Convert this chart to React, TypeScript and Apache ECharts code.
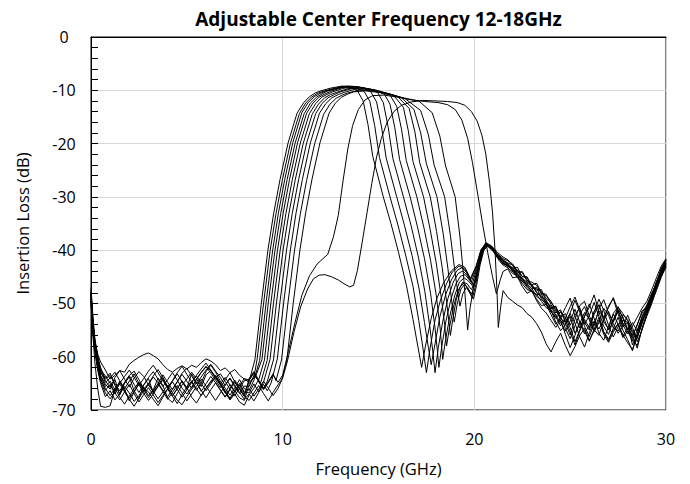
import React, { useEffect, useRef } from "react";
import * as echarts from "echarts";

const titleText = "Adjustable Center Frequency 12-18GHz";
const xName = "Frequency (GHz)";
const yName = "Insertion Loss (dB)";

const lowFreqs = [0, 0.1, 0.2, 0.35, 0.5, 0.75, 1, 1.25, 1.5, 1.75, 2, 2.25, 2.5, 2.75, 3, 3.25, 3.5, 3.75, 4, 4.25, 4.5, 4.75, 5, 5.25, 5.5, 5.75, 6, 6.25, 6.5, 6.75, 7, 7.25, 7.5, 7.75, 8];
const highFreqs = [21.75, 22, 22.25, 22.5, 22.75, 23, 23.25, 23.5, 23.75, 24, 24.25, 24.5, 24.75, 25, 25.25, 25.5, 25.75, 26, 26.25, 26.5, 26.75, 27, 27.25, 27.5, 27.75, 28, 28.25, 28.5, 28.75, 29, 29.25, 29.5, 29.75, 30];

// ---- curve 0 ----
const m0Low = [-48, -54, -58, -61, -63.5, -65.2, -66.1, -64.3, -67.2, -65.0, -63.8, -66.4, -67.9, -65.3, -64.1, -66.8, -65.5, -63.9, -65.7, -67.4, -66.0, -64.6, -65.9, -63.2, -64.8, -66.5, -65.1, -63.7, -64.9, -66.2, -67.5, -66.0, -64.4, -65.8, -67.1];
const m0Pass = [[8.25, -64.6], [8.55, -60.6], [8.88, -50.2], [9.23, -40], [9.53, -33.1], [9.86, -26.8], [10.28, -19.9], [10.75, -14.3], [11.1, -12.3], [11.4, -11.2], [11.7, -10.5], [12.0, -10.1], [12.5, -9.6], [13.1, -9.2], [13.5, -9.4], [13.9, -10.1], [14.2, -12.0], [14.45, -16.4], [14.7, -22.4], [15.25, -30], [15.65, -35], [16.05, -40.5], [16.45, -46.5], [16.8, -53], [17.05, -58], [17.25, -62], [17.45, -58], [17.75, -52.8], [18.05, -49], [18.4, -46.1], [18.8, -43.9], [19.2, -42.7], [19.5, -43.2], [19.8, -45.3], [20.1, -42.9], [20.35, -39.9], [20.6, -38.7], [20.9, -39.5], [21.2, -40.7], [21.5, -41.6]];
const m0High = [-42.0, -42.6, -43.9, -44.2, -45.8, -46.0, -46.6, -48.2, -48.5, -49.6, -51.4, -52.6, -51.9, -54.1, -52.2, -50.8, -53.6, -55.0, -51.5, -50.2, -53.4, -54.8, -51.9, -50.6, -52.8, -55.1, -56.4, -53.9, -51.8, -50.3, -48.1, -46.3, -43.6, -41.9];

// ---- curve 1 ----
const m1Low = [-49, -55, -58.5, -62, -64, -66.3, -65.2, -67.0, -64.6, -66.1, -68.3, -66.7, -64.9, -65.8, -67.3, -66.2, -64.0, -65.4, -67.8, -68.6, -66.9, -65.3, -64.2, -62.9, -64.1, -65.6, -63.4, -62.6, -64.0, -65.3, -66.8, -65.2, -66.4, -67.7, -68.2];
const m1Pass = [[8.25, -65.2], [8.5, -63.9], [8.67, -60.4], [9.0, -50.1], [9.35, -40], [9.65, -33.2], [9.98, -26.9], [10.4, -20.0], [10.87, -14.4], [11.2, -12.4], [11.5, -11.3], [11.8, -10.6], [12.1, -10.2], [12.6, -9.7], [13.2, -9.3], [13.85, -9.6], [14.25, -10.2], [14.55, -12.1], [14.8, -16.6], [15.05, -22.6], [15.6, -30], [16.0, -35.1], [16.4, -40.7], [16.8, -46.8], [17.1, -53.2], [17.32, -58.4], [17.5, -63], [17.7, -58.2], [17.95, -53.1], [18.25, -49.2], [18.55, -46.3], [18.85, -44.1], [19.2, -43.0], [19.5, -43.5], [19.8, -45.6], [20.1, -43.1], [20.35, -40.0], [20.6, -38.8], [20.9, -39.4], [21.2, -40.9], [21.5, -41.8]];
const m1High = [-42.5, -43.4, -43.2, -45.0, -45.1, -46.9, -47.5, -47.4, -49.6, -50.8, -50.5, -53.3, -54.0, -52.4, -55.6, -53.8, -51.7, -52.9, -55.3, -53.6, -50.9, -52.2, -54.6, -55.2, -53.1, -53.6, -57.8, -55.9, -53.1, -51.6, -49.2, -47.0, -44.6, -42.6];

// ---- curve 2 ----
const m2Low = [-47.5, -53.5, -57.5, -60.5, -62.5, -64.0, -63.1, -65.4, -66.9, -64.8, -63.5, -62.7, -64.3, -66.0, -65.1, -63.6, -62.4, -63.9, -65.7, -64.5, -63.0, -61.8, -63.3, -64.7, -66.3, -64.9, -62.8, -61.6, -62.9, -64.6, -65.9, -67.2, -65.8, -64.3, -66.0];
const m2Pass = [[8.25, -66.3], [8.5, -64.4], [8.8, -60.7], [9.13, -50.0], [9.48, -40], [9.78, -33.0], [10.11, -26.7], [10.53, -19.8], [11.0, -14.2], [11.33, -12.3], [11.65, -11.2], [11.95, -10.6], [12.2, -10.2], [12.8, -9.6], [13.3, -9.2], [13.8, -9.3], [14.2, -9.6], [14.6, -10.3], [14.9, -12.2], [15.15, -16.7], [15.4, -22.7], [15.95, -30], [16.35, -35.3], [16.75, -41.0], [17.12, -47.3], [17.4, -53.6], [17.6, -58.2], [17.75, -61.5], [17.95, -57.6], [18.2, -52.5], [18.5, -48.4], [18.8, -45.6], [19.1, -43.8], [19.35, -43.3], [19.6, -44.2], [19.85, -45.9], [20.1, -43.4], [20.35, -40.2], [20.6, -38.6], [20.9, -39.2], [21.2, -40.4], [21.5, -41.3]];
const m2High = [-41.8, -42.9, -44.3, -44.0, -45.6, -46.5, -46.2, -48.0, -48.3, -50.2, -51.8, -51.2, -53.7, -55.9, -53.0, -50.4, -49.6, -52.4, -54.2, -51.0, -49.3, -51.8, -53.5, -51.4, -54.0, -55.7, -54.2, -52.6, -50.9, -49.6, -47.5, -45.2, -43.0, -41.6];

// ---- curve 3 ----
const m3Low = [-48.5, -54, -57, -59.5, -61, -62.5, -64.2, -63.5, -62.6, -62.9, -61.4, -60.7, -60.1, -59.6, -59.3, -59.8, -60.4, -61.5, -62.4, -62.9, -62.2, -61.7, -62.3, -61.6, -62.0, -61.1, -60.4, -60.8, -61.5, -62.6, -62.1, -63.0, -62.4, -63.5, -64.2];
const m3Pass = [[8.25, -64.8], [8.6, -63.6], [8.92, -60.5], [9.25, -49.9], [9.6, -40], [9.9, -33.1], [10.23, -26.8], [10.65, -19.9], [11.12, -14.4], [11.45, -12.4], [11.77, -11.3], [12.05, -10.7], [12.3, -10.2], [12.9, -9.6], [13.4, -9.25], [13.9, -9.3], [14.5, -9.8], [14.95, -10.4], [15.25, -12.3], [15.5, -16.8], [15.75, -22.8], [16.3, -30], [16.7, -35.4], [17.08, -41.3], [17.42, -47.8], [17.67, -54.2], [17.83, -58.9], [17.95, -63], [18.12, -58.3], [18.35, -53.4], [18.62, -49.1], [18.9, -46.0], [19.15, -44.4], [19.4, -43.9], [19.65, -44.8], [19.9, -46.3], [20.12, -43.6], [20.35, -40.5], [20.6, -38.9], [20.9, -39.6], [21.2, -41.0], [21.5, -41.9]];
const m3High = [-42.8, -43.6, -44.5, -45.5, -46.2, -46.6, -48.0, -48.9, -49.3, -51.2, -52.3, -51.5, -52.6, -54.5, -57.2, -55.0, -52.3, -50.1, -52.8, -55.6, -56.9, -54.3, -52.0, -53.9, -56.1, -54.6, -55.9, -58.4, -54.6, -52.0, -49.8, -47.6, -45.1, -43.1];

// ---- curve 4 ----
const m4Low = [-49.5, -55.5, -59, -62.5, -65, -67.5, -66.4, -68.1, -67.0, -65.6, -66.8, -68.4, -67.3, -65.9, -66.6, -68.0, -69.2, -67.6, -66.1, -67.4, -68.8, -67.1, -65.7, -64.6, -66.0, -67.3, -65.9, -64.8, -63.9, -65.2, -66.7, -68.1, -67.0, -68.5, -69.1];
const m4Pass = [[8.25, -67.2], [8.5, -65.9], [8.75, -64.3], [9.05, -60.6], [9.38, -50.1], [9.73, -40], [10.03, -33.0], [10.36, -26.7], [10.78, -19.8], [11.25, -14.3], [11.58, -12.4], [11.9, -11.3], [12.2, -10.7], [12.5, -10.2], [13.1, -9.5], [13.6, -9.3], [14.2, -9.5], [14.8, -10.0], [15.3, -10.7], [15.6, -12.6], [15.85, -17.0], [16.1, -23.0], [16.65, -30], [17.03, -35.6], [17.4, -41.6], [17.72, -48.2], [17.95, -54.6], [18.07, -58.8], [18.15, -62], [18.3, -58.1], [18.52, -53.3], [18.78, -49.2], [19.03, -46.4], [19.28, -44.9], [19.52, -44.6], [19.75, -45.6], [19.95, -46.6], [20.15, -43.8], [20.38, -40.3], [20.6, -38.7], [20.9, -39.3], [21.2, -40.8], [21.5, -42.0]];
const m4High = [-42.4, -42.8, -44.0, -44.9, -45.0, -46.8, -47.3, -47.8, -49.0, -49.8, -51.0, -52.9, -53.5, -51.8, -49.4, -51.6, -54.3, -56.2, -53.8, -51.4, -52.6, -50.8, -48.9, -51.3, -53.7, -54.9, -53.6, -55.2, -52.4, -50.5, -48.5, -46.0, -44.1, -42.0];

// ---- curve 5 ----
const m5Low = [-48, -53, -57, -60, -62, -64.5, -65.8, -63.9, -62.6, -64.2, -65.7, -64.0, -62.8, -63.7, -65.3, -66.6, -65.0, -63.4, -64.8, -66.2, -64.7, -63.1, -62.2, -63.6, -65.1, -63.8, -62.5, -61.4, -62.7, -63.9, -65.4, -64.1, -65.6, -66.9, -65.5];
const m5Pass = [[8.25, -65.6], [8.5, -63.5], [8.85, -64.9], [9.19, -60.7], [9.52, -50.0], [9.87, -40], [10.17, -33.1], [10.5, -26.8], [10.92, -19.9], [11.39, -14.4], [11.72, -12.5], [12.04, -11.3], [12.3, -10.8], [12.6, -10.3], [13.2, -9.6], [13.8, -9.4], [14.4, -9.7], [15.0, -10.3], [15.6, -10.9], [15.95, -13.0], [16.2, -17.3], [16.45, -23.2], [17.0, -30], [17.37, -35.8], [17.72, -42.0], [18.02, -48.6], [18.22, -54.8], [18.35, -60.5], [18.5, -56.8], [18.72, -52.4], [18.97, -48.6], [19.22, -46.0], [19.47, -45.2], [19.7, -45.8], [19.95, -46.9], [20.15, -44.0], [20.38, -40.6], [20.6, -38.9], [20.9, -39.7], [21.2, -41.2], [21.5, -42.3]];
const m5High = [-42.9, -43.3, -44.6, -45.3, -46.0, -46.4, -47.9, -48.6, -49.8, -50.5, -52.2, -53.6, -55.2, -53.3, -51.1, -53.5, -55.7, -54.0, -51.6, -49.2, -51.3, -54.1, -56.3, -54.4, -52.1, -53.0, -55.2, -56.6, -53.5, -51.3, -49.0, -46.8, -44.0, -42.4];

// ---- curve 6 ----
const m6Low = [-50, -56, -61, -66, -69.3, -69.5, -69.2, -66.0, -64.7, -66.3, -67.8, -66.5, -65.2, -66.9, -68.2, -67.0, -65.6, -64.3, -65.9, -67.3, -66.0, -64.5, -65.8, -67.6, -68.7, -67.2, -65.9, -64.6, -63.5, -64.9, -66.4, -67.8, -66.3, -65.0, -66.6];
const m6Pass = [[8.25, -66.8], [8.5, -65.1], [8.75, -66.6], [9.0, -64.8], [9.34, -60.5], [9.67, -50.1], [10.02, -40], [10.32, -33.2], [10.65, -26.9], [11.07, -20.0], [11.54, -14.5], [11.87, -12.6], [12.19, -11.4], [12.5, -10.8], [12.8, -10.4], [13.4, -9.7], [14.0, -9.5], [14.6, -9.8], [15.2, -10.4], [15.8, -11.0], [16.3, -13.2], [16.55, -17.5], [16.8, -23.4], [17.35, -30], [17.7, -36.2], [18.02, -42.6], [18.3, -49.5], [18.45, -54.0], [18.55, -58], [18.7, -54.6], [18.92, -50.5], [19.15, -47.6], [19.4, -46.0], [19.62, -46.3], [19.85, -47.4], [20.05, -45.8], [20.25, -42.3], [20.45, -39.6], [20.65, -38.8], [20.95, -39.6], [21.25, -41.1], [21.5, -42.1]];
const m6High = [-42.6, -43.9, -43.7, -45.6, -46.5, -47.3, -47.0, -49.1, -50.3, -51.0, -50.6, -52.4, -54.7, -56.6, -54.2, -52.0, -50.6, -53.1, -54.9, -56.0, -53.2, -51.5, -53.8, -55.6, -54.3, -52.2, -54.5, -57.2, -55.0, -51.9, -49.4, -46.5, -44.3, -42.8];

// ---- curve 7 ----
const m7Low = [-47, -52.5, -56.5, -60, -62.8, -64.8, -64.0, -62.9, -64.5, -66.0, -64.6, -63.2, -65.0, -66.5, -65.2, -63.8, -64.9, -66.3, -67.5, -66.1, -64.7, -63.3, -64.6, -65.9, -64.2, -62.9, -61.8, -63.1, -64.4, -65.8, -64.3, -63.0, -64.7, -66.0, -67.4];
const m7Pass = [[8.25, -64.1], [8.5, -62.8], [8.75, -64.4], [9.0, -65.9], [9.2, -64.6], [9.52, -60.6], [9.85, -50.0], [10.2, -40], [10.5, -33.1], [10.83, -26.8], [11.25, -19.9], [11.72, -14.4], [12.05, -12.5], [12.37, -11.4], [12.7, -10.8], [13.0, -10.3], [13.6, -9.7], [14.2, -9.6], [14.8, -9.9], [15.4, -10.5], [16.0, -11.2], [16.6, -13.4], [16.9, -17.8], [17.15, -23.6], [17.7, -30], [18.03, -36.5], [18.32, -43.2], [18.55, -49.6], [18.68, -53.6], [18.75, -56], [18.88, -52.9], [19.05, -49.4], [19.25, -47.0], [19.45, -46.2], [19.65, -47.0], [19.85, -48.3], [20.05, -46.0], [20.25, -42.6], [20.45, -39.8], [20.65, -39.0], [20.95, -39.8], [21.25, -41.3], [21.5, -42.4]];
const m7High = [-43.1, -43.5, -44.9, -45.2, -46.8, -47.6, -48.4, -48.2, -50.1, -51.5, -52.8, -51.6, -53.0, -55.3, -57.8, -55.2, -53.0, -54.6, -52.1, -50.3, -52.7, -55.0, -53.4, -51.2, -52.5, -54.8, -56.0, -54.1, -51.4, -50.9, -48.7, -45.9, -43.8, -41.8];

// ---- curve 8 ----
const m8Low = [-48.8, -54.5, -58.2, -61.6, -64.2, -66.0, -67.3, -65.9, -67.6, -68.9, -67.4, -66.0, -64.8, -66.2, -67.7, -66.3, -65.1, -66.5, -68.0, -66.7, -65.4, -66.8, -68.3, -67.0, -65.6, -64.2, -65.5, -66.9, -68.2, -66.8, -65.3, -64.0, -65.4, -66.7, -68.0];
const m8Pass = [[8.25, -67.0], [8.5, -68.3], [8.75, -66.7], [9.0, -65.2], [9.2, -66.4], [9.4, -64.9], [9.72, -60.4], [10.05, -49.9], [10.4, -40], [10.7, -33.0], [11.03, -26.7], [11.45, -19.8], [11.92, -14.3], [12.25, -12.5], [12.57, -11.4], [12.9, -10.8], [13.2, -10.4], [13.8, -9.8], [14.4, -9.8], [15.0, -10.2], [15.6, -10.7], [16.2, -11.4], [16.85, -13.6], [17.2, -18.0], [17.5, -23.8], [18.05, -30], [18.37, -36.8], [18.62, -43.4], [18.82, -49.6], [18.95, -53.5], [19.1, -50.2], [19.3, -47.3], [19.5, -46.4], [19.7, -47.5], [19.9, -49.0], [20.08, -46.4], [20.27, -42.7], [20.47, -39.9], [20.67, -39.1], [20.97, -39.9], [21.25, -41.5], [21.5, -42.6]];
const m8High = [-42.7, -44.1, -44.4, -45.9, -46.4, -47.2, -48.7, -49.3, -49.9, -51.6, -52.5, -54.2, -52.8, -50.6, -48.8, -51.2, -53.9, -52.3, -49.8, -52.5, -55.4, -57.0, -54.7, -52.6, -55.0, -56.8, -58.9, -55.6, -52.9, -51.0, -48.3, -46.6, -44.7, -43.3];

// ---- curve 9 ----
const m9Low = [-49.2, -54.8, -57.8, -60.8, -63.0, -64.2, -63.5, -65.1, -66.4, -64.9, -63.6, -65.2, -66.7, -65.3, -63.9, -62.8, -64.2, -65.6, -64.3, -63.0, -64.4, -65.9, -67.0, -65.7, -64.3, -63.0, -61.9, -62.6, -64.0, -63.2, -64.6, -66.1, -67.3, -65.9, -64.5];
const m9Pass = [[8.25, -64.3], [8.5, -63.0], [8.75, -64.6], [9.0, -66.0], [9.25, -64.7], [9.5, -63.2], [9.65, -64.5], [9.94, -60.6], [10.27, -50.1], [10.62, -40], [10.92, -33.2], [11.25, -26.9], [11.67, -20.0], [12.14, -14.5], [12.47, -12.6], [12.79, -11.5], [13.1, -10.9], [13.4, -10.5], [14.0, -10.0], [14.6, -10.0], [15.2, -10.4], [15.8, -10.9], [16.4, -11.6], [17.2, -13.8], [17.6, -18.3], [17.9, -24.0], [18.45, -30], [18.75, -37.2], [18.98, -43.8], [19.15, -48.3], [19.25, -50.5], [19.4, -48.2], [19.58, -47.0], [19.78, -48.1], [19.95, -49.2], [20.12, -46.6], [20.3, -42.8], [20.5, -40.0], [20.7, -39.2], [21.0, -40.1], [21.3, -41.7], [21.5, -42.5]];
const m9High = [-43.0, -43.8, -45.2, -45.8, -47.0, -47.9, -48.3, -49.6, -50.8, -51.3, -53.5, -55.1, -54.0, -51.9, -53.7, -56.3, -58.2, -55.5, -53.3, -54.8, -53.0, -50.5, -49.1, -52.0, -54.4, -53.5, -56.8, -57.9, -54.9, -52.4, -50.1, -47.3, -44.9, -42.9];

// ---- curve 10 ----
const m10Low = [-48.2, -53.8, -57.2, -60.2, -62.4, -63.6, -65.0, -66.8, -68.1, -66.6, -65.2, -66.9, -68.5, -67.1, -65.8, -67.2, -68.6, -67.3, -66.0, -64.7, -66.1, -67.6, -66.2, -64.8, -63.6, -65.0, -66.4, -65.1, -63.8, -65.2, -66.6, -68.0, -66.7, -65.3, -66.8];
const m10Pass = [[8.25, -66.0], [8.5, -67.4], [8.75, -66.1], [9.0, -64.6], [9.25, -65.9], [9.5, -67.3], [9.75, -66.0], [9.95, -64.4], [10.22, -60.6], [10.55, -50.0], [10.9, -40], [11.2, -33.0], [11.53, -26.7], [11.95, -19.8], [12.42, -14.3], [12.75, -12.4], [13.07, -11.3], [13.4, -10.7], [13.7, -10.3], [14.3, -10.1], [15.0, -10.4], [15.7, -10.9], [16.4, -11.5], [17.1, -12.0], [17.8, -14.2], [18.2, -18.6], [18.5, -24.2], [19.0, -30], [19.25, -37.5], [19.43, -44.5], [19.56, -50.5], [19.65, -55], [19.78, -50.8], [19.95, -47.2], [20.12, -44.8], [20.3, -42.0], [20.5, -39.8], [20.7, -39.3], [21.0, -40.3], [21.3, -42.0], [21.5, -42.8]];
const m10High = [-43.3, -44.4, -44.8, -46.3, -47.4, -47.7, -49.2, -50.4, -50.2, -52.1, -53.9, -52.7, -50.8, -49.0, -52.4, -54.6, -52.5, -50.7, -48.4, -51.6, -54.3, -55.8, -53.1, -50.7, -51.9, -53.3, -55.6, -56.3, -53.6, -51.2, -48.9, -46.2, -43.4, -41.7];

// ---- curve 11 (shoulder near -41 dB) ----
const m11Low = [-47.8, -53.2, -57.6, -61.0, -63.6, -65.6, -64.6, -66.2, -65.0, -63.7, -62.5, -63.9, -65.4, -64.1, -62.7, -61.6, -63.0, -64.5, -65.9, -64.6, -63.2, -64.7, -66.1, -64.8, -63.5, -62.3, -61.2, -62.5, -63.8, -65.1, -63.9, -65.3, -66.6, -65.4, -64.1];
const m11Pass = [[8.25, -64.4], [8.5, -63.1], [8.75, -64.7], [9.0, -66.2], [9.25, -64.9], [9.5, -63.4], [9.75, -64.8], [10.0, -63.5], [10.3, -59.0], [10.65, -53.5], [11.0, -48.5], [11.4, -44.8], [11.8, -42.6], [12.1, -41.6], [12.35, -40.8], [12.65, -37.5], [12.9, -33.5], [13.15, -27.0], [13.4, -21.0], [13.65, -16.6], [13.95, -13.6], [14.3, -11.8], [14.7, -11.0], [15.3, -10.9], [16.0, -11.3], [16.7, -11.8], [17.4, -12.1], [18.1, -12.3], [18.6, -12.7], [19.0, -13.6], [19.35, -15.6], [19.65, -19.0], [19.9, -23.5], [20.2, -30], [20.45, -35.5], [20.7, -40.5], [20.95, -45.0], [21.15, -48.2], [21.35, -45.6], [21.5, -44.0]];
const m11High = [-43.5, -45.2, -45.0, -46.8, -48.1, -47.6, -49.5, -50.9, -51.8, -53.2, -54.5, -53.1, -55.8, -58.3, -56.0, -53.4, -55.2, -57.1, -54.8, -52.6, -55.3, -56.7, -55.0, -53.8, -55.9, -57.4, -58.6, -56.2, -53.8, -51.4, -49.6, -47.1, -44.5, -42.5];

// ---- curve 12 (shoulder near -46 dB, widest) ----
const m12Low = [-49.6, -55.2, -58.8, -62.2, -64.6, -66.8, -67.9, -66.5, -65.1, -66.6, -68.0, -69.3, -67.8, -66.4, -65.0, -66.5, -67.9, -66.6, -65.3, -66.8, -68.2, -69.0, -67.5, -66.1, -64.9, -66.3, -67.7, -66.2, -64.9, -66.3, -67.6, -66.2, -64.8, -66.1, -67.5];
const m12Pass = [[8.25, -68.2], [8.5, -66.8], [8.75, -65.4], [9.0, -66.9], [9.25, -68.3], [9.5, -66.7], [9.75, -65.3], [10.0, -64.0], [10.25, -60.8], [10.6, -55.2], [10.95, -50.5], [11.3, -47.3], [11.6, -45.4], [11.9, -44.7], [12.2, -44.6], [12.55, -45.0], [12.9, -45.6], [13.2, -46.3], [13.5, -46.9], [13.7, -46.6], [13.9, -43.8], [14.15, -38.5], [14.4, -33.0], [14.65, -27.5], [14.9, -22.5], [15.15, -19.0], [15.45, -16.0], [15.8, -14.0], [16.2, -12.8], [16.7, -12.2], [17.3, -11.9], [18.0, -12.0], [18.6, -12.1], [19.1, -12.3], [19.5, -12.8], [19.85, -14.0], [20.15, -15.8], [20.4, -18.5], [20.6, -22.0], [20.8, -27.5], [20.95, -33.0], [21.08, -40.0], [21.18, -47.5], [21.25, -54.5], [21.38, -50.5], [21.5, -47.6]];
const m12High = [-48.9, -49.6, -50.3, -50.8, -51.9, -52.6, -53.8, -55.4, -57.6, -59.1, -57.2, -55.6, -57.9, -59.8, -58.1, -56.0, -54.7, -56.9, -55.2, -53.1, -55.8, -57.3, -55.4, -53.9, -56.4, -55.2, -57.1, -55.0, -52.7, -50.9, -48.8, -46.4, -43.9, -42.2];

const curveLows = [m0Low, m1Low, m2Low, m3Low, m4Low, m5Low, m6Low, m7Low, m8Low, m9Low, m10Low, m11Low, m12Low];
const curvePasses = [m0Pass, m1Pass, m2Pass, m3Pass, m4Pass, m5Pass, m6Pass, m7Pass, m8Pass, m9Pass, m10Pass, m11Pass, m12Pass];
const curveHighs = [m0High, m1High, m2High, m3High, m4High, m5High, m6High, m7High, m8High, m9High, m10High, m11High, m12High];

const FONT = '"Open Sans", "DejaVu Sans", sans-serif';

export default function App() {
  const ref = useRef<HTMLDivElement>(null);
  useEffect(() => {
    document.body.style.margin = "0";
    if (!ref.current) return;
    const chart = echarts.init(ref.current, undefined, { renderer: "svg" });
    const series = curveLows.map((low, k) => {
      const data: number[][] = [];
      lowFreqs.forEach((f, i) => data.push([f, low[i]]));
      curvePasses[k].forEach((p) => data.push([p[0], p[1]]));
      curveHighs[k].forEach((v, i) => data.push([highFreqs[i], v]));
      return {
        type: "line",
        data,
        showSymbol: false,
        symbol: "none",
        smooth: false,
        silent: true,
        lineStyle: { width: 1, color: "#000" },
      };
    });
    chart.setOption({
      animation: false,
      backgroundColor: "#fff",
      graphic: [
        {
          type: "text",
          x: 378.5,
          y: 19,
          style: {
            text: titleText,
            fontFamily: FONT,
            fontSize: 19,
            fontWeight: "bold",
            fill: "#000",
            textAlign: "center",
            textVerticalAlign: "middle",
            align: "center",
            verticalAlign: "middle",
          },
        },
      ],
      grid: {
        left: 91,
        right: 24,
        top: 37,
        bottom: 74,
        show: true,
        borderColor: "#000",
        borderWidth: 1,
        backgroundColor: "transparent",
      },
      xAxis: {
        type: "value",
        min: 0,
        max: 30,
        interval: 10,
        name: xName,
        nameLocation: "middle",
        nameGap: 50,
        nameTextStyle: { fontFamily: FONT, fontSize: 16.5, color: "#000" },
        axisLine: { show: true, lineStyle: { color: "#000", width: 1 } },
        axisTick: { show: false },
        axisLabel: { fontFamily: FONT, fontSize: 16, color: "#000", margin: 21 },
        splitLine: { show: true, lineStyle: { color: "#d6d6d6", width: 1 } },
      },
      yAxis: {
        type: "value",
        min: -70,
        max: 0,
        interval: 10,
        name: yName,
        nameLocation: "middle",
        nameGap: 60,
        nameRotate: 90,
        nameTextStyle: { fontFamily: FONT, fontSize: 16.5, color: "#000" },
        axisLine: { show: true, lineStyle: { color: "#000", width: 1 } },
        axisTick: { show: true, inside: true, length: 7, lineStyle: { color: "#000" } },
        minorTick: { show: true, splitNumber: 5, length: 7, lineStyle: { color: "#000" } },
        axisLabel: { fontFamily: FONT, fontSize: 16, color: "#000", margin: 27, align: "center" },
        splitLine: { show: true, lineStyle: { color: "#d6d6d6", width: 1 } },
      },
      series,
    });
    return () => chart.dispose();
  }, []);
  return <div ref={ref} style={{ width: 690, height: 484 }} />;
}
